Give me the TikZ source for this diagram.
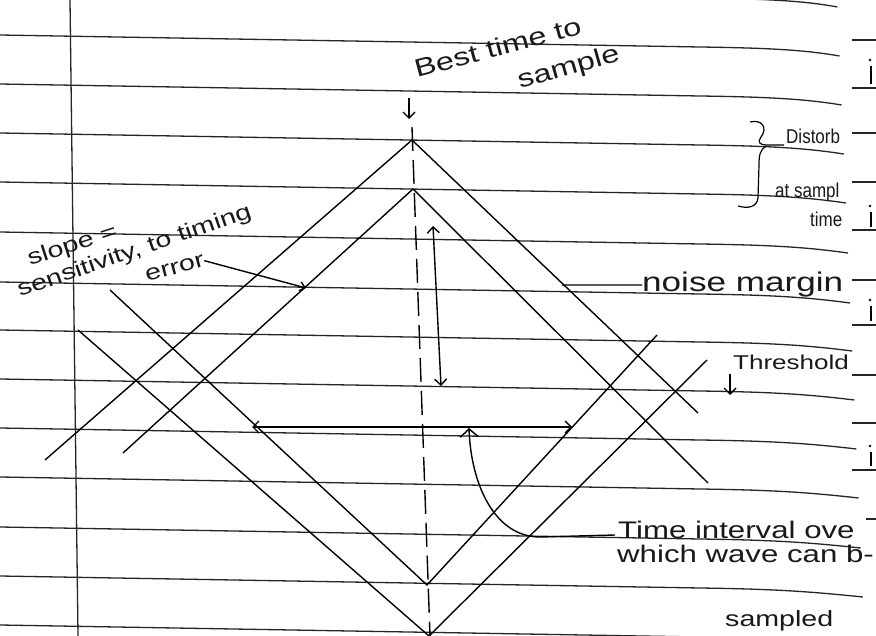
\documentclass[tikz,border=0pt]{standalone}
\usepackage{fontspec}
\newfontfamily\hand[FakeStretch=1.3]{Liberation Sans}
\newfontfamily\handc[FakeStretch=0.85]{Liberation Sans}
\usetikzlibrary{arrows.meta}
\begin{document}
\begin{tikzpicture}[x=1pt,y=-1pt,
  rule/.style={line width=1.3pt, black!85},
  ink/.style={line width=1.4pt, black},
  barb/.style={-{Straight Barb[length=6pt,width=12pt]}},
  dbarb/.style={{Straight Barb[length=6pt,width=12pt]}-{Straight Barb[length=6pt,width=12pt]}},
  txt/.style={inner sep=0pt, anchor=base west, text=black!90},
  big/.style={font=\hand\fontsize{25}{25}\selectfont},
  mid/.style={font=\hand\fontsize{22}{22}\selectfont},
  small/.style={font=\handc\fontsize{20}{20}\selectfont}]
\useasboundingbox (0,0) rectangle (876,636);
\fill[white] (0,0) rectangle (876,636);

% ruled notebook lines
\foreach \y in {-14,35,84,133,182,232,282,330,379,428,477,527,576,625}{
  \draw[rule] (0,\y) -- (700,\y+12) .. controls (770,\y+13) and (805,\y+15) .. ({838+0.043*\y},\y+21);
}
% fragments of the neighbouring page at the right edge
\foreach \y in {40,88,133,182,230,280,325,375,423,470}{
  \draw[rule] (852,\y) -- (876,\y);
}
\draw[rule] (866,519) -- (876,519);
\foreach \a/\b in {66/84,212/227,306/321,452/466}{
  \draw[ink] (871,\a) -- (871,\b);
  \fill (870,\a-6) circle (1.3pt);
}
% margin line
\draw[rule] (70,0) -- (78,636);

% eye pattern key points
\coordinate (oT) at (412,140);
\coordinate (iT) at (413,189);
\coordinate (iB) at (427,585);
\coordinate (oB) at (429,636);
\coordinate (oUL) at (45,460);
\coordinate (iUL) at (123,453);
\coordinate (oUR) at (698,413);
\coordinate (iUR) at (708,483);
\coordinate (oLL) at (78,330);
\coordinate (iLL) at (110,290);
\coordinate (iLR) at (657,335);
\coordinate (oLR) at (707,360);
\coordinate (cT) at (412,127);
\coordinate (cB) at (430,636);

\draw[ink] (oUL) -- (oT) -- (oUR);
\draw[ink] (iUL) -- (iT) -- (iUR);
\draw[ink] (oLL) -- (oB) -- (oLR);
\draw[ink] (iLL) -- (iB) -- (iLR);
\draw[ink, dash pattern=on 24pt off 9pt] (cT) -- (cB);

% arrows
\coordinate (bA) at (409,98);
\coordinate (bB) at (409,119);
\draw[ink, barb] (bA) -- (bB);
\coordinate (nmTop) at (433,226);
\coordinate (nmBot) at (441,386);
\draw[ink, dbarb] (nmTop) -- (nmBot);
\coordinate (tL) at (252,427);
\coordinate (tR) at (572,427);
\draw[ink, dbarb] (tL) -- (tR);

% texts
\node[txt, big, rotate=15] (best) at (417,78) {Best time to};
\node[txt, big, rotate=16] (samp) at (520,89) {sample};
\node[txt, small] (dist) at (786,144) {Distorb};
\node[txt, small] (atsa) at (775,198) {at sampl};
\node[txt, small] (tim) at (810,227) {time};
\node[txt, mid, rotate=18] (slope) at (30,266) {slope =};
\node[txt, mid, rotate=19] (sens) at (20,297) {sensitivity, to timing};
\node[txt, mid, rotate=15] (err) at (147,282) {error};
\node[txt, font=\hand\fontsize{27}{27}\selectfont] (nm) at (642,292) {noise margin};
\node[txt, font=\hand\fontsize{20}{20}\selectfont] (th) at (733,370) {Threshold};
\node[txt, font=\hand\fontsize{24}{24}\selectfont] (ti) at (618,538) {Time interval ove};
\node[txt, font=\hand\fontsize{24}{24}\selectfont] (wh) at (617,562) {which wave can b-};
\node[txt, font=\hand\fontsize{22}{22}\selectfont] (sa) at (725,626) {sampled};

% brace
\draw[ink, line width=1.2pt] (750,122) .. controls (762,119) and (768,128) .. (761,137)
  .. controls (757,142) and (760,145) .. (766,145) -- (784,145);
\draw[ink, line width=1.2pt] (766,146) .. controls (760,150) and (759,155) .. (759,165)
  -- (758,198) .. controls (757,207) and (748,209) .. (738,206);

% leaders
\coordinate (slopePt) at (306,288);
\draw[ink, -{Straight Barb[length=5pt,width=9pt]}] (err.east) -- (slopePt);
\coordinate (nmStart) at (562,285);
\draw[ink] (nmStart) -- (nm.west);
\coordinate (thA) at (730,374);
\coordinate (thB) at (730,395);
\draw[ink, barb] (thA) -- (thB);
\coordinate (tiTip) at (469,428);
\coordinate (tiEnd) at (615,535);
\draw[ink, -{Straight Barb[length=8pt,width=18pt]}] (tiEnd) -- (540,537) .. controls (495,537) and (471,485) .. (tiTip);
\end{tikzpicture}
\end{document}
